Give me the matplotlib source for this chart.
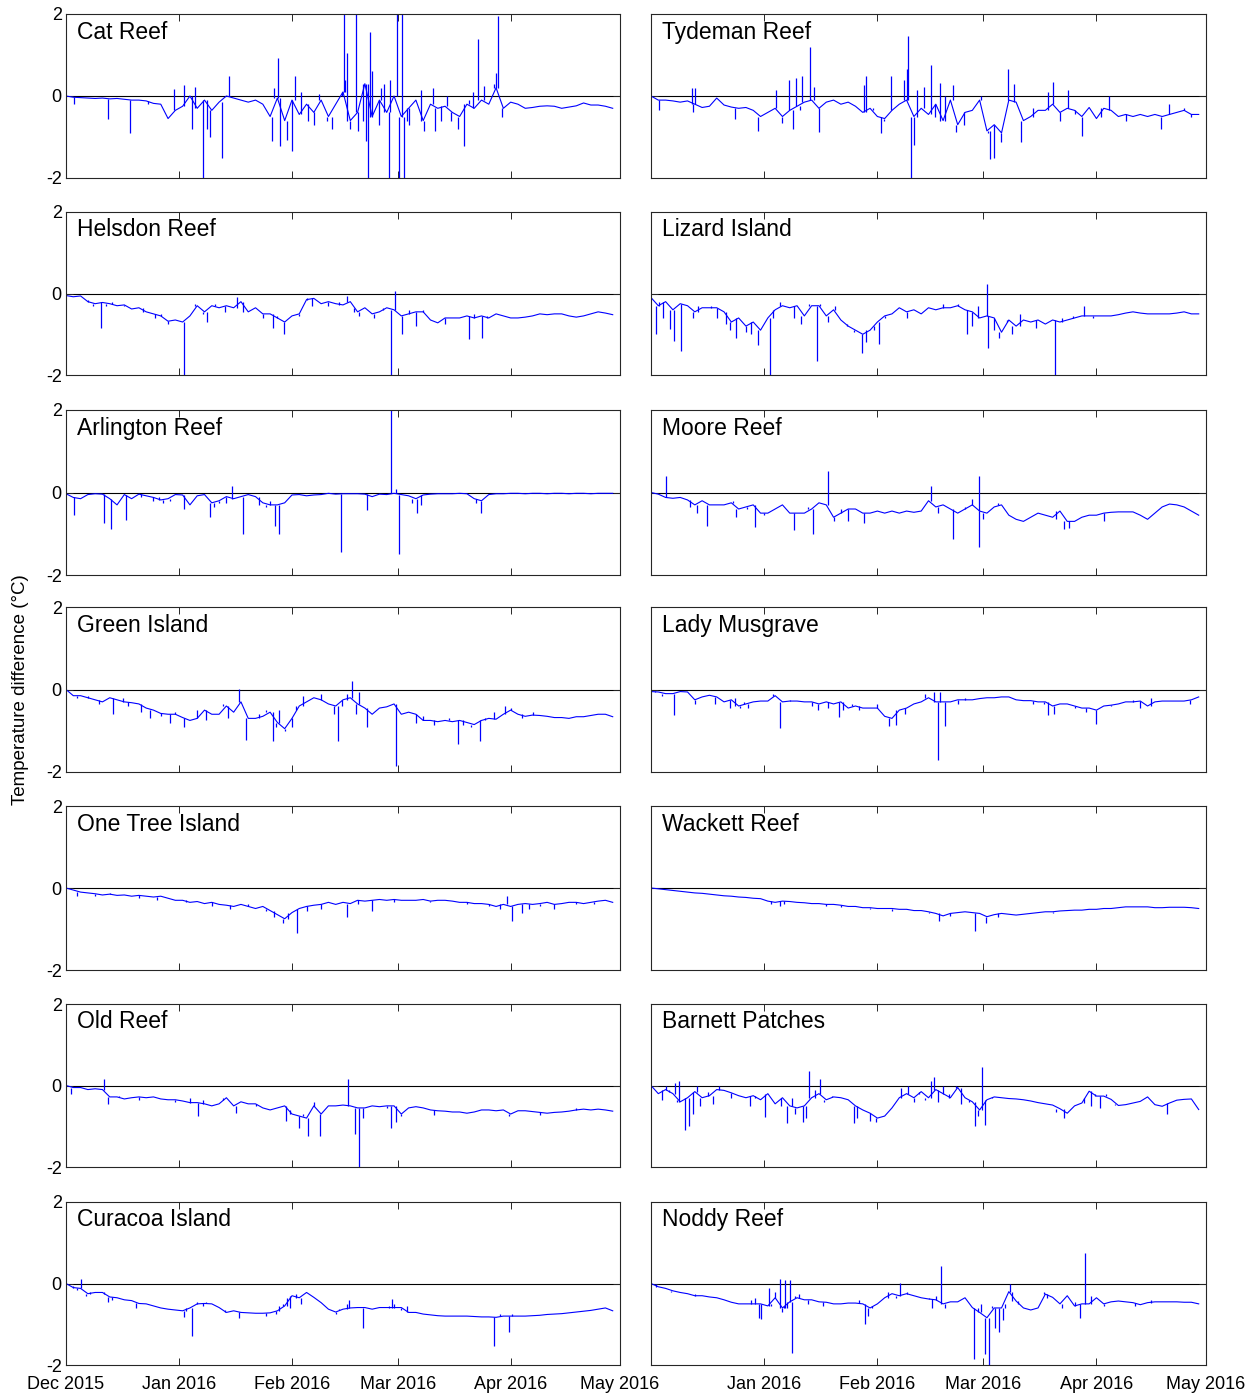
import matplotlib

matplotlib.use("Agg")
from datetime import datetime

import matplotlib.dates as mdates
import matplotlib.pyplot as plt
import numpy as np

# Temperature difference (°C) sampled every STEP_DAYS from START,
# plus short excursions given as (day offset, peak value).
START = datetime(2015, 12, 1)
END = datetime(2016, 5, 1)
STEP_DAYS = 2

MONTHS = [datetime(2015, 12, 1), datetime(2016, 1, 1), datetime(2016, 2, 1),
          datetime(2016, 3, 1), datetime(2016, 4, 1), datetime(2016, 5, 1)]
MONTH_LABELS = ["Dec 2015", "Jan 2016", "Feb 2016", "Mar 2016", "Apr 2016", "May 2016"]

CAT_REEF = [
    0.0, -0.03, -0.04, -0.05, -0.06, -0.05, -0.07, -0.06, -0.08, -0.1,
    -0.1, -0.12, -0.18, -0.2, -0.55, -0.35, -0.25, 0.0, -0.3, -0.1,
    -0.35, -0.15, 0.0, -0.05, -0.1, -0.15, -0.1, -0.2, -0.5, -0.05,
    -0.6, -0.1, -0.45, -0.2, -0.4, -0.1, -0.5, -0.2, 0.1, -0.6,
    -0.4, 0.3, -0.5, -0.1, -0.4, 0.0, -0.5, -0.3, -0.1, -0.6,
    -0.2, -0.3, -0.25, -0.4, -0.5, -0.2, -0.3, -0.1, -0.2, 0.2,
    -0.3, -0.15, -0.2, -0.3, -0.28, -0.25, -0.24, -0.25, -0.3, -0.27,
    -0.24, -0.17, -0.22, -0.22, -0.25, -0.3,
]
CAT_REEF_SPIKES = [
    (2.2, -0.2), (11.6, -0.55), (17.5, -0.9), (22.5, -0.2), (29.6, 0.18),
    (32.5, 0.27), (34.5, -0.8), (35.5, 0.22), (37.6, -2.0), (38.7, -0.8),
    (39.4, -1.0), (42.7, -1.5), (44.6, 0.5), (56.5, -1.1), (57.1, 0.2),
    (58.2, 0.92), (58.6, -1.23), (60.6, -1.08), (61.9, -1.33), (62.9, 0.5),
    (64.5, 0.1), (66.5, -0.6), (68.0, -0.7), (69.5, 0.05), (71.5, -0.6),
    (73.0, -0.8), (75.6, 0.0), (76.2, 2.0), (76.6, 0.4), (77.1, 1.05),
    (78.0, -0.8), (79.6, 2.0), (80.2, -0.85), (81.4, -0.6), (82.3, -1.1),
    (82.9, -2.0), (83.3, 1.55), (84.0, 0.6), (85.0, -0.5), (86.0, -0.7),
    (86.4, 0.2), (87.3, 0.3), (88.5, -2.0), (89.0, 0.4), (90.9, 2.0),
    (91.4, -2.0), (92.2, 2.0), (92.6, -2.0), (93.5, -0.6), (94.0, -0.7),
    (97.3, 0.15), (98.3, -0.85), (100.8, 0.2), (101.3, -0.85), (103.0, -0.6),
    (104.6, 0.0), (105.6, -0.6), (107.1, -0.5), (107.6, -0.8), (109.2, -1.23),
    (110.7, -0.1), (111.8, 0.1), (113.1, 1.38), (114.6, 0.25), (117.5, 0.3),
    (118.1, 0.55), (118.5, 1.95), (119.5, -0.5),
]

TYDEMAN_REEF = [
    0.0, -0.1, -0.1, -0.12, -0.15, -0.12, -0.2, -0.28, -0.25, -0.05,
    -0.22, -0.27, -0.3, -0.28, -0.35, -0.5, -0.4, -0.3, -0.5, -0.35,
    -0.25, -0.15, -0.1, -0.3, -0.15, -0.1, -0.2, -0.15, -0.25, -0.4,
    -0.3, -0.5, -0.55, -0.35, -0.2, -0.1, -0.5, -0.3, -0.45, -0.2,
    -0.6, -0.1, -0.7, -0.4, -0.35, -0.1, -0.85, -0.7, -0.9, -0.1,
    -0.15, -0.6, -0.5, -0.35, -0.35, -0.2, -0.4, -0.3, -0.35, -0.5,
    -0.28, -0.55, -0.3, -0.35, -0.5, -0.45, -0.5, -0.45, -0.5, -0.45,
    -0.5, -0.45, -0.4, -0.35, -0.45, -0.45,
]
TYDEMAN_REEF_SPIKES = [
    (2.3, -0.35), (11.1, 0.2), (11.6, -0.4), (12.1, 0.2), (23.0, -0.55),
    (29.4, -0.85), (34.3, 0.15), (35.8, -0.67), (37.7, 0.4), (38.8, -0.8),
    (39.7, 0.45), (40.7, -0.35), (41.4, 0.5), (43.6, 1.2), (44.6, 0.23),
    (46.1, -0.88), (58.4, 0.27), (58.9, 0.5), (60.9, -0.35), (62.9, -0.9),
    (63.9, -0.6), (65.8, 0.48), (69.3, 0.4), (70.0, 0.65), (70.5, 1.46),
    (71.2, -2.0), (71.9, -1.2), (72.8, 0.15), (74.7, 0.23), (76.7, 0.76),
    (77.7, -0.5), (79.1, 0.31), (80.6, 0.0), (82.6, 0.27), (83.5, -0.88),
    (85.6, -0.7), (90.4, 0.0), (92.4, -0.9), (92.9, -1.53), (93.9, -1.5),
    (95.9, -1.12), (97.8, 0.65), (99.3, 0.3), (100.3, -0.15), (101.3, -1.12),
    (104.6, -0.3), (108.7, 0.1), (110.1, 0.35), (112.1, -0.6), (114.1, 0.15),
    (116.2, -0.45), (118.0, -0.98), (123.3, -0.5), (125.3, 0.0), (130.0, -0.6),
    (135.0, -0.5), (139.7, -0.8), (142.0, -0.2), (146.0, -0.3), (148.0, -0.5),
]

HELSDON_REEF = [
    -0.05, -0.08, -0.06, -0.2, -0.25, -0.22, -0.25, -0.3, -0.28, -0.38,
    -0.35, -0.45, -0.5, -0.55, -0.68, -0.65, -0.7, -0.55, -0.3, -0.45,
    -0.3, -0.35, -0.3, -0.35, -0.2, -0.45, -0.35, -0.5, -0.5, -0.6,
    -0.7, -0.55, -0.5, -0.15, -0.12, -0.25, -0.2, -0.25, -0.28, -0.2,
    -0.45, -0.35, -0.5, -0.45, -0.35, -0.4, -0.55, -0.5, -0.45, -0.45,
    -0.65, -0.72, -0.6, -0.6, -0.6, -0.55, -0.6, -0.55, -0.6, -0.5,
    -0.55, -0.6, -0.6, -0.58, -0.55, -0.5, -0.52, -0.5, -0.5, -0.55,
    -0.58, -0.55, -0.5, -0.45, -0.48, -0.52,
]
HELSDON_REEF_SPIKES = [
    (6.0, -0.15), (7.5, -0.3), (9.5, -0.84), (11.0, -0.3), (12.5, -0.2),
    (16.0, -0.3), (21.0, -0.45), (24.5, -0.6), (26.0, -0.5), (28.0, -0.75),
    (32.3, -2.0), (35.5, -0.25), (37.5, -0.5), (38.7, -0.7), (41.0, -0.25),
    (43.5, -0.45), (46.9, -0.08), (48.5, -0.45), (52.0, -0.35), (54.0, -0.6),
    (56.7, -0.85), (58.0, -0.55), (59.9, -1.0), (64.0, -0.55), (66.0, -0.1),
    (67.5, -0.3), (69.0, -0.1), (72.0, -0.3), (75.0, -0.2), (77.1, -0.05),
    (79.0, -0.35), (80.5, -0.55), (84.5, -0.6), (87.0, -0.4), (89.3, -2.0),
    (90.4, 0.06), (92.2, -1.0), (94.0, -0.4), (95.9, -0.8), (98.0, -0.4),
    (104.0, -0.75), (108.5, -0.6), (110.6, -1.12), (112.0, -0.5), (114.1, -1.08),
    (115.5, -0.55),
]

LIZARD_ISLAND = [
    -0.1, -0.3, -0.2, -0.4, -0.25, -0.3, -0.45, -0.35, -0.35, -0.35,
    -0.45, -0.7, -0.6, -0.8, -0.7, -0.9, -0.6, -0.4, -0.3, -0.35,
    -0.3, -0.55, -0.3, -0.3, -0.55, -0.4, -0.65, -0.8, -0.9, -1.0,
    -0.9, -0.7, -0.55, -0.5, -0.35, -0.45, -0.4, -0.5, -0.35, -0.4,
    -0.35, -0.35, -0.3, -0.4, -0.45, -0.6, -0.55, -0.6, -0.95, -0.65,
    -0.8, -0.65, -0.7, -0.65, -0.75, -0.65, -0.7, -0.65, -0.6, -0.55,
    -0.55, -0.55, -0.55, -0.55, -0.52, -0.48, -0.45, -0.48, -0.5, -0.5,
    -0.5, -0.5, -0.48, -0.45, -0.5, -0.5,
]
LIZARD_ISLAND_SPIKES = [
    (1.3, -1.0), (2.3, -0.2), (3.3, -0.6), (5.2, -0.88), (6.2, -1.16),
    (8.2, -1.4), (10.4, -0.3), (11.6, -0.6), (13.0, -0.3), (16.5, -0.3),
    (18.0, -0.6), (20.5, -0.75), (21.5, -0.9), (23.4, -1.08), (24.5, -0.6),
    (26.0, -0.95), (27.4, -1.0), (28.4, -0.7), (29.4, -1.27), (32.5, -2.0),
    (33.4, -0.6), (35.3, -0.2), (37.2, -0.35), (39.2, -0.6), (41.2, -0.75),
    (43.4, -0.25), (45.4, -1.66), (46.4, -0.25), (48.4, -0.7), (50.5, -0.3),
    (53.7, -0.75), (55.5, -0.95), (57.7, -1.45), (59.0, -1.2), (61.0, -0.8),
    (62.4, -1.25), (64.0, -0.6), (67.0, -0.35), (70.0, -0.6), (75.0, -0.35),
    (80.0, -0.25), (84.0, -0.25), (86.5, -1.0), (88.0, -0.8), (89.5, -0.3),
    (91.9, 0.23), (92.4, -1.33), (94.0, -0.9), (95.3, -1.1), (97.5, -0.7),
    (99.0, -1.0), (101.0, -0.5), (105.5, -0.85), (110.6, -2.0), (112.5, -0.6),
    (115.5, -0.55), (118.5, -0.3), (121.0, -0.6),
]

ARLINGTON_REEF = [
    -0.03, -0.12, -0.15, -0.05, -0.03, -0.04, -0.15, -0.3, -0.05, -0.15,
    -0.04, -0.08, -0.12, -0.18, -0.15, -0.05, -0.06, -0.3, -0.08, -0.05,
    -0.25, -0.2, -0.1, -0.15, -0.1, -0.05, -0.1, -0.25, -0.3, -0.3,
    -0.25, -0.06, -0.05, -0.08, -0.06, -0.05, -0.02, -0.04, -0.03, -0.03,
    -0.03, -0.04, -0.1, -0.04, -0.05, -0.02, -0.05, -0.08, -0.15, -0.06,
    -0.04, -0.03, -0.03, -0.03, -0.02, -0.03, -0.15, -0.2, -0.05, -0.03,
    -0.03, -0.02, -0.02, -0.03, -0.02, -0.02, -0.03, -0.02, -0.02, -0.03,
    -0.02, -0.02, -0.03, -0.02, -0.02, -0.02,
]
ARLINGTON_REEF_SPIKES = [
    (2.3, -0.55), (10.4, -0.75), (12.4, -0.88), (16.4, -0.66), (20.5, -0.1),
    (24.0, -0.2), (25.5, -0.1), (26.5, -0.25), (28.5, -0.2), (32.3, -0.4),
    (39.4, -0.6), (40.5, -0.35), (42.0, -0.25), (44.0, -0.25), (45.6, 0.15),
    (48.6, -1.0), (53.0, -0.3), (55.0, -0.35), (56.0, -0.2), (57.4, -0.8),
    (58.4, -1.0), (75.5, -1.45), (82.6, -0.43), (89.3, 2.0), (90.6, 0.08),
    (91.4, -1.49), (95.0, -0.25), (96.4, -0.5), (97.5, -0.3), (112.5, -0.25),
    (113.9, -0.5),
]

MOORE_REEF = [
    0.0, -0.04, -0.12, -0.14, -0.12, -0.18, -0.3, -0.2, -0.3, -0.3,
    -0.3, -0.25, -0.4, -0.35, -0.3, -0.5, -0.5, -0.4, -0.3, -0.5,
    -0.5, -0.5, -0.4, -0.25, -0.3, -0.6, -0.5, -0.4, -0.4, -0.5,
    -0.5, -0.45, -0.5, -0.45, -0.5, -0.45, -0.48, -0.45, -0.2, -0.35,
    -0.3, -0.4, -0.5, -0.4, -0.3, -0.45, -0.5, -0.35, -0.3, -0.55,
    -0.65, -0.7, -0.6, -0.5, -0.55, -0.6, -0.45, -0.7, -0.7, -0.6,
    -0.55, -0.55, -0.5, -0.48, -0.47, -0.47, -0.47, -0.55, -0.65, -0.5,
    -0.35, -0.28, -0.3, -0.35, -0.45, -0.55,
]
MOORE_REEF_SPIKES = [
    (4.2, 0.39), (10.6, -0.35), (12.6, -0.5), (14.0, -0.2), (15.3, -0.82),
    (17.7, -0.3), (22.4, -0.2), (23.4, -0.6), (26.4, -0.4), (28.4, -0.84),
    (31.0, -0.55), (35.3, -0.3), (37.2, -0.5), (39.2, -0.92), (43.0, -0.35),
    (44.4, -1.0), (46.1, -0.25), (48.6, 0.52), (50.0, -0.7), (52.0, -0.4),
    (54.0, -0.7), (58.4, -0.75), (75.0, -0.2), (76.7, 0.15), (78.6, -0.5),
    (81.0, -0.3), (82.6, -1.12), (86.0, -0.35), (88.0, -0.15), (89.9, 0.39),
    (89.9, -1.33), (91.0, -0.65), (95.0, -0.25), (111.0, -0.65), (113.1, -0.88),
    (114.6, -0.85), (124.0, -0.7),
]

GREEN_ISLAND = [
    0.0, -0.15, -0.15, -0.2, -0.25, -0.3, -0.2, -0.25, -0.3, -0.32,
    -0.35, -0.45, -0.5, -0.58, -0.6, -0.6, -0.68, -0.75, -0.7, -0.5,
    -0.6, -0.6, -0.4, -0.55, -0.3, -0.7, -0.7, -0.65, -0.55, -0.8,
    -0.95, -0.7, -0.4, -0.3, -0.2, -0.25, -0.35, -0.4, -0.25, -0.2,
    -0.35, -0.45, -0.6, -0.45, -0.42, -0.35, -0.6, -0.55, -0.6, -0.75,
    -0.75, -0.78, -0.75, -0.78, -0.75, -0.8, -0.85, -0.75, -0.7, -0.72,
    -0.6, -0.5, -0.6, -0.65, -0.62, -0.63, -0.65, -0.68, -0.68, -0.7,
    -0.66, -0.66, -0.63, -0.6, -0.6, -0.66,
]
GREEN_ISLAND_SPIKES = [
    (3.0, -0.2), (6.0, -0.15), (9.0, -0.35), (11.0, -0.2), (13.0, -0.6),
    (15.6, -0.2), (17.0, -0.4), (20.5, -0.55), (23.0, -0.7), (26.0, -0.65),
    (28.5, -0.8), (30.0, -0.55), (32.3, -0.9), (36.0, -0.5), (38.5, -0.75),
    (43.0, -0.35), (44.5, -0.7), (47.6, 0.02), (49.4, -1.23), (53.0, -0.6),
    (55.0, -0.5), (56.7, -1.25), (57.5, -0.9), (58.5, -0.5), (60.0, -1.0),
    (61.9, -0.92), (63.0, -0.5), (65.0, -0.15), (66.5, -0.3), (70.0, -0.1),
    (73.5, -0.6), (74.7, -1.25), (75.6, -0.4), (77.0, -0.1), (78.6, 0.21),
    (79.5, -0.6), (80.5, -0.05), (82.6, -0.92), (90.6, -1.86), (93.0, -0.6),
    (96.0, -0.8), (98.0, -0.65), (101.0, -0.85), (105.0, -0.7), (107.6, -1.31),
    (109.0, -0.85), (111.0, -0.9), (113.6, -1.25), (115.0, -0.75), (117.5, -0.55),
    (120.4, -0.4), (122.0, -0.45), (125.0, -0.7), (128.0, -0.55),
]

LADY_MUSGRAVE = [
    -0.05, -0.06, -0.1, -0.1, -0.05, -0.06, -0.25, -0.18, -0.14, -0.18,
    -0.3, -0.25, -0.4, -0.35, -0.3, -0.28, -0.28, -0.15, -0.3, -0.28,
    -0.28, -0.3, -0.3, -0.35, -0.3, -0.35, -0.3, -0.45, -0.4, -0.45,
    -0.45, -0.45, -0.65, -0.7, -0.5, -0.45, -0.35, -0.3, -0.2, -0.3,
    -0.3, -0.3, -0.25, -0.25, -0.25, -0.22, -0.2, -0.2, -0.18, -0.18,
    -0.25, -0.27, -0.27, -0.3, -0.3, -0.4, -0.35, -0.35, -0.4, -0.45,
    -0.45, -0.5, -0.4, -0.38, -0.35, -0.3, -0.3, -0.28, -0.4, -0.3,
    -0.28, -0.28, -0.28, -0.28, -0.25, -0.18,
]
LADY_MUSGRAVE_SPIKES = [
    (1.0, -0.03), (3.0, -0.15), (6.2, -0.63), (7.0, -0.05), (12.0, -0.35),
    (17.6, -0.35), (21.5, -0.45), (23.0, -0.2), (24.5, -0.45), (25.5, -0.3),
    (26.5, -0.45), (33.3, -0.1), (35.3, -0.94), (38.0, -0.25), (44.0, -0.4),
    (45.6, -0.5), (48.5, -0.45), (50.5, -0.35), (51.5, -0.67), (52.5, -0.5),
    (55.0, -0.35), (57.0, -0.5), (62.0, -0.35), (65.3, -0.88), (67.0, -0.85),
    (69.5, -0.6), (75.0, -0.1), (77.5, -0.05), (78.6, -1.71), (79.2, -0.05),
    (80.6, -0.88), (84.0, -0.35), (86.0, -0.2), (104.5, -0.35), (107.5, -0.35),
    (108.7, -0.63), (110.5, -0.6), (113.0, -0.35), (116.0, -0.45), (119.0, -0.55),
    (121.8, -0.84), (126.0, -0.4), (132.0, -0.25), (134.0, -0.45), (137.0, -0.2),
    (147.5, -0.35),
]

ONE_TREE_ISLAND = [
    0.0, -0.05, -0.1, -0.12, -0.14, -0.17, -0.15, -0.18, -0.17, -0.2,
    -0.18, -0.2, -0.22, -0.2, -0.25, -0.3, -0.3, -0.35, -0.33, -0.38,
    -0.35, -0.4, -0.42, -0.45, -0.4, -0.45, -0.5, -0.45, -0.55, -0.65,
    -0.75, -0.6, -0.5, -0.45, -0.42, -0.4, -0.35, -0.4, -0.35, -0.38,
    -0.3, -0.32, -0.3, -0.28, -0.3, -0.28, -0.3, -0.3, -0.3, -0.28,
    -0.32, -0.3, -0.3, -0.32, -0.35, -0.35, -0.38, -0.38, -0.4, -0.45,
    -0.4, -0.45, -0.4, -0.38, -0.4, -0.38, -0.35, -0.4, -0.38, -0.35,
    -0.35, -0.38, -0.35, -0.32, -0.3, -0.35,
]
ONE_TREE_ISLAND_SPIKES = [
    (3.0, -0.2), (8.0, -0.2), (12.0, -0.12), (20.0, -0.25), (25.0, -0.3),
    (33.0, -0.35), (40.0, -0.45), (45.0, -0.5), (50.0, -0.4), (55.0, -0.5),
    (57.0, -0.7), (59.5, -0.85), (61.0, -0.6), (63.3, -1.1), (66.0, -0.55),
    (70.0, -0.5), (75.0, -0.35), (77.2, -0.7), (80.0, -0.4), (84.0, -0.55),
    (90.0, -0.35), (100.0, -0.35), (110.0, -0.4), (116.0, -0.45), (119.0, -0.5),
    (121.0, -0.2), (122.4, -0.8), (125.0, -0.6), (127.0, -0.5), (130.0, -0.45),
    (134.0, -0.5), (140.0, -0.4), (145.0, -0.4),
]

WACKETT_REEF = [
    0.0, -0.02, -0.04, -0.06, -0.08, -0.1, -0.12, -0.13, -0.15, -0.17,
    -0.19, -0.2, -0.22, -0.23, -0.25, -0.26, -0.32, -0.35, -0.32, -0.33,
    -0.35, -0.36, -0.38, -0.38, -0.4, -0.4, -0.42, -0.45, -0.45, -0.48,
    -0.48, -0.5, -0.5, -0.5, -0.52, -0.52, -0.55, -0.55, -0.58, -0.62,
    -0.68, -0.62, -0.6, -0.58, -0.6, -0.62, -0.7, -0.65, -0.62, -0.64,
    -0.66, -0.64, -0.62, -0.6, -0.58, -0.58, -0.56, -0.55, -0.54, -0.54,
    -0.52, -0.52, -0.5, -0.5, -0.48, -0.46, -0.46, -0.46, -0.46, -0.48,
    -0.48, -0.47, -0.47, -0.47, -0.48, -0.5,
]
WACKETT_REEF_SPIKES = [
    (33.0, -0.38), (35.4, -0.45), (36.5, -0.4), (48.0, -0.45), (52.0, -0.47),
    (60.0, -0.52), (66.0, -0.55), (76.0, -0.62), (78.9, -0.8), (82.0, -0.68),
    (88.8, -1.05), (91.8, -0.85), (95.0, -0.7), (110.0, -0.6),
]

OLD_REEF = [
    0.0, -0.05, -0.05, -0.1, -0.08, -0.1, -0.28, -0.28, -0.33, -0.3,
    -0.28, -0.3, -0.28, -0.33, -0.35, -0.35, -0.38, -0.42, -0.42, -0.45,
    -0.5, -0.45, -0.3, -0.5, -0.4, -0.45, -0.45, -0.55, -0.6, -0.55,
    -0.5, -0.7, -0.75, -0.8, -0.5, -0.7, -0.5, -0.5, -0.48, -0.5,
    -0.55, -0.55, -0.5, -0.52, -0.5, -0.5, -0.7, -0.55, -0.52, -0.55,
    -0.6, -0.62, -0.63, -0.65, -0.65, -0.68, -0.65, -0.6, -0.6, -0.62,
    -0.6, -0.7, -0.62, -0.62, -0.64, -0.66, -0.68, -0.66, -0.65, -0.63,
    -0.6, -0.58, -0.6, -0.58, -0.6, -0.63,
]
OLD_REEF_SPIKES = [
    (1.3, -0.2), (10.4, 0.15), (11.6, -0.45), (14.5, -0.25), (20.0, -0.35),
    (30.0, -0.4), (34.0, -0.3), (36.3, -0.74), (37.5, -0.35), (40.5, -0.5),
    (43.0, -0.35), (46.6, -0.67), (47.5, -0.4), (52.0, -0.5), (55.0, -0.6),
    (60.4, -0.88), (61.5, -0.6), (63.9, -1.04), (65.0, -0.7), (66.3, -1.23),
    (68.0, -0.4), (69.8, -1.25), (71.0, -0.5), (77.4, 0.15), (79.4, -1.2),
    (80.4, -2.0), (81.4, -0.8), (88.0, -0.55), (89.3, -1.04), (90.6, -0.9),
    (92.0, -0.75), (101.0, -0.72), (121.5, -0.75), (130.0, -0.72), (140.0, -0.55),
]

BARNETT_PATCHES = [
    0.0, -0.2, -0.1, -0.2, -0.4, -0.3, -0.15, -0.3, -0.25, -0.1,
    -0.12, -0.18, -0.25, -0.3, -0.25, -0.35, -0.2, -0.45, -0.3, -0.5,
    -0.55, -0.5, -0.3, -0.2, -0.35, -0.28, -0.3, -0.35, -0.5, -0.6,
    -0.68, -0.8, -0.75, -0.55, -0.3, -0.2, -0.3, -0.15, -0.3, -0.1,
    -0.2, -0.3, -0.05, -0.3, -0.4, -0.6, -0.35, -0.28, -0.3, -0.32,
    -0.33, -0.35, -0.38, -0.42, -0.45, -0.48, -0.57, -0.68, -0.5, -0.43,
    -0.14, -0.26, -0.26, -0.34, -0.49, -0.47, -0.43, -0.39, -0.28, -0.47,
    -0.51, -0.43, -0.36, -0.34, -0.33, -0.59,
]
BARNETT_PATCHES_SPIKES = [
    (3.0, -0.35), (4.0, 0.0), (5.0, -0.15), (6.5, 0.05), (7.0, -0.35),
    (7.7, 0.1), (9.4, -1.08), (10.4, -1.0), (11.5, -0.7), (12.5, 0.0),
    (13.5, -0.5), (15.5, -0.15), (17.0, -0.45), (18.5, 0.0), (22.0, -0.3),
    (27.0, -0.5), (28.5, -0.3), (31.3, -0.77), (33.0, -0.2), (35.5, -0.5),
    (37.2, -0.92), (38.5, -0.3), (39.5, -0.7), (41.7, -0.9), (42.5, -0.8),
    (43.4, 0.35), (45.0, -0.1), (46.4, 0.15), (47.5, -0.4), (49.5, -0.25),
    (55.5, -0.92), (56.5, -0.8), (58.0, -0.6), (59.9, -0.88), (61.5, -0.9),
    (67.0, -0.3), (68.5, -0.05), (70.5, 0.0), (72.0, -0.4), (73.5, -0.2),
    (75.0, -0.35), (76.7, 0.1), (77.4, 0.2), (78.5, -0.4), (80.0, 0.0),
    (81.5, -0.2), (83.5, 0.0), (85.0, -0.45), (87.0, -0.35), (88.7, -1.0),
    (89.5, -0.75), (90.6, 0.45), (91.4, -0.98), (93.5, -0.3), (111.0, -0.65),
    (113.0, -0.8), (118.5, -0.3), (120.5, -0.5), (121.5, -0.2), (123.0, -0.55),
    (124.5, -0.2), (127.0, -0.45), (141.2, -0.7),
]

CURACOA_ISLAND = [
    0.0, -0.1, -0.12, -0.25, -0.22, -0.22, -0.33, -0.35, -0.4, -0.42,
    -0.49, -0.5, -0.55, -0.6, -0.63, -0.65, -0.67, -0.6, -0.5, -0.49,
    -0.5, -0.59, -0.71, -0.67, -0.71, -0.72, -0.73, -0.73, -0.72, -0.67,
    -0.55, -0.3, -0.35, -0.22, -0.34, -0.47, -0.63, -0.7, -0.63, -0.6,
    -0.59, -0.59, -0.63, -0.59, -0.59, -0.59, -0.59, -0.71, -0.71, -0.75,
    -0.77, -0.79, -0.8, -0.8, -0.8, -0.8, -0.81, -0.82, -0.82, -0.83,
    -0.8, -0.8, -0.8, -0.8, -0.79, -0.78, -0.76, -0.75, -0.74, -0.72,
    -0.7, -0.68, -0.66, -0.63, -0.6, -0.67,
]
CURACOA_ISLAND_SPIKES = [
    (2.0, -0.05), (3.0, -0.15), (4.2, 0.1), (5.5, -0.3), (6.5, -0.2),
    (10.5, -0.25), (11.6, -0.45), (12.5, -0.4), (19.3, -0.6), (32.5, -0.82),
    (33.0, -0.6), (34.5, -1.29), (36.0, -0.45), (37.5, -0.55), (38.5, -0.45),
    (43.5, -0.65), (47.4, -0.84), (55.0, -0.8), (57.5, -0.75), (58.5, -0.55),
    (59.5, -0.5), (60.5, -0.35), (61.5, -0.6), (63.0, -0.25), (64.5, -0.5),
    (74.0, -0.75), (75.0, -0.65), (77.0, -0.5), (77.6, -0.4), (81.4, -1.08),
    (88.5, -0.55), (89.4, -0.37), (90.0, -0.5), (92.0, -0.65), (93.5, -0.55),
    (117.5, -1.53), (119.0, -0.75), (120.5, -0.8), (121.5, -1.2), (122.5, -0.75),
]

NODDY_REEF = [
    0.0, -0.08, -0.12, -0.18, -0.22, -0.25, -0.3, -0.3, -0.33, -0.35,
    -0.4, -0.46, -0.5, -0.5, -0.5, -0.5, -0.55, -0.35, -0.6, -0.45,
    -0.35, -0.4, -0.4, -0.45, -0.46, -0.5, -0.5, -0.48, -0.48, -0.5,
    -0.6, -0.5, -0.35, -0.25, -0.3, -0.25, -0.3, -0.35, -0.38, -0.4,
    -0.5, -0.45, -0.45, -0.35, -0.59, -0.71, -0.84, -0.6, -0.6, -0.2,
    -0.43, -0.6, -0.65, -0.6, -0.26, -0.34, -0.5, -0.3, -0.55, -0.5,
    -0.5, -0.35, -0.5, -0.45, -0.43, -0.45, -0.47, -0.52, -0.47, -0.45,
    -0.45, -0.45, -0.45, -0.46, -0.46, -0.5,
]
NODDY_REEF_SPIKES = [
    (1.3, 0.0), (5.5, -0.22), (12.0, -0.25), (27.5, -0.4), (28.5, -0.35),
    (29.5, -0.84), (30.1, -0.88), (31.0, -0.55), (32.3, -0.1), (33.0, -0.5),
    (34.0, -0.2), (35.3, 0.1), (35.8, -0.7), (36.3, -0.55), (36.8, 0.08),
    (37.3, -0.6), (38.2, 0.08), (38.6, -1.71), (39.5, -0.3), (40.5, -0.25),
    (43.0, -0.5), (47.0, -0.55), (57.0, -0.4), (58.7, -1.0), (59.5, -0.8),
    (60.5, -0.55), (63.0, -0.35), (65.0, -0.2), (67.0, -0.35), (68.3, 0.02),
    (70.0, -0.2), (76.0, -0.35), (77.0, -0.6), (78.0, -0.3), (79.4, 0.43),
    (80.5, -0.6), (86.0, -0.35), (88.5, -1.86), (89.5, -0.6), (90.5, -0.5),
    (91.4, -1.74), (92.6, -2.0), (93.5, -0.55), (94.3, -1.1), (95.4, -1.2),
    (96.5, -0.9), (97.0, -0.5), (98.3, 0.0), (99.0, -0.2), (100.5, -0.5),
    (107.5, -0.2), (108.5, -0.35), (112.5, -0.6), (113.5, -0.3), (116.0, -0.45),
    (117.5, -0.84), (118.8, 0.76), (120.5, -0.3), (122.5, -0.35), (124.0, -0.55),
    (132.5, -0.55), (137.0, -0.4),
]

# row-major: left column, right column
PANELS = [
    ("Cat Reef", CAT_REEF, CAT_REEF_SPIKES),
    ("Tydeman Reef", TYDEMAN_REEF, TYDEMAN_REEF_SPIKES),
    ("Helsdon Reef", HELSDON_REEF, HELSDON_REEF_SPIKES),
    ("Lizard Island", LIZARD_ISLAND, LIZARD_ISLAND_SPIKES),
    ("Arlington Reef", ARLINGTON_REEF, ARLINGTON_REEF_SPIKES),
    ("Moore Reef", MOORE_REEF, MOORE_REEF_SPIKES),
    ("Green Island", GREEN_ISLAND, GREEN_ISLAND_SPIKES),
    ("Lady Musgrave", LADY_MUSGRAVE, LADY_MUSGRAVE_SPIKES),
    ("One Tree Island", ONE_TREE_ISLAND, ONE_TREE_ISLAND_SPIKES),
    ("Wackett Reef", WACKETT_REEF, WACKETT_REEF_SPIKES),
    ("Old Reef", OLD_REEF, OLD_REEF_SPIKES),
    ("Barnett Patches", BARNETT_PATCHES, BARNETT_PATCHES_SPIKES),
    ("Curacoa Island", CURACOA_ISLAND, CURACOA_ISLAND_SPIKES),
    ("Noddy Reef", NODDY_REEF, NODDY_REEF_SPIKES),
]

plt.rcParams["font.family"] = ["Liberation Sans", "DejaVu Sans"]
plt.rcParams["axes.unicode_minus"] = False

FIG_W, FIG_H = 1257, 1396
COL_X = [(66, 620), (651, 1206)]
ROW_Y = [(14, 178), (212, 375), (410, 575), (607, 772), (806, 970), (1004, 1167), (1202, 1365)]
BLUE = "#0000ff"
FRAME = "#262626"

fig = plt.figure(figsize=(FIG_W / 100, FIG_H / 100), dpi=100)
t0 = mdates.date2num(START)
month_nums = mdates.date2num(MONTHS)

for i, (name, values, spikes) in enumerate(PANELS):
    row, col = divmod(i, 2)
    x0, x1 = COL_X[col]
    y0, y1 = ROW_Y[row]
    ax = fig.add_axes([x0 / FIG_W, 1 - y1 / FIG_H, (x1 - x0) / FIG_W, (y1 - y0) / FIG_H])

    values = np.asarray(values, dtype=float)
    days = np.arange(values.size) * STEP_DAYS
    ax.axhline(0, color="black", lw=0.8, zorder=1)
    ax.plot(t0 + days, values, color=BLUE, lw=0.8, zorder=2)
    if spikes:
        sd, sp = np.array(spikes, dtype=float).T
        idx = np.clip(np.rint(sd / STEP_DAYS).astype(int), 0, values.size - 1)
        ax.vlines(t0 + sd, values[idx], sp, color=BLUE, lw=0.9, zorder=2)

    ax.set_xlim(t0, mdates.date2num(END))
    ax.set_ylim(-2, 2)
    ax.set_yticks([-2, 0, 2])
    ax.set_xticks(month_nums)
    labels = list(MONTH_LABELS) if col == 0 else [""] + MONTH_LABELS[1:]
    ax.set_xticklabels(labels)
    ax.tick_params(direction="in", top=True, right=True, length=5, width=0.7,
                   colors=FRAME, labelcolor="black", labelsize=13, pad=3)
    ax.tick_params(axis="x", pad=8, labelbottom=(row == len(ROW_Y) - 1))
    ax.tick_params(axis="y", labelleft=(col == 0))
    for spine in ax.spines.values():
        spine.set_color(FRAME)
        spine.set_linewidth(0.8)

    ax.text(0.02, 0.89, name, transform=ax.transAxes, fontsize=16.5,
            ha="left", va="center")

fig.text(0.016, 0.506, "Temperature difference (°C)", rotation=90,
         ha="center", va="center", fontsize=13.5)

fig.savefig("out.png", dpi=100)
